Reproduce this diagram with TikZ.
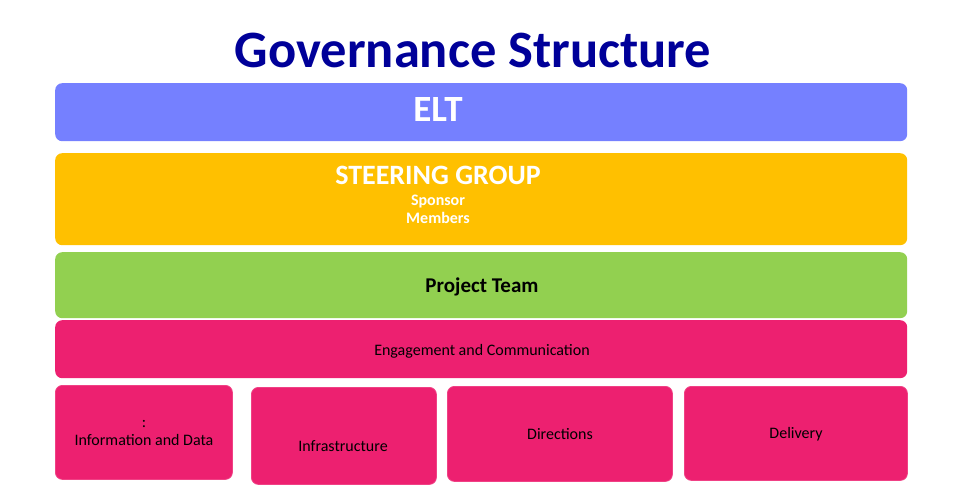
\documentclass[tikz,border=0pt]{standalone}
\usepackage{fontspec}
\setmainfont{Carlito}
\usetikzlibrary{positioning}
\definecolor{titleblue}{HTML}{000099}
\definecolor{eltblue}{HTML}{7580FF}
\definecolor{steergold}{HTML}{FFC000}
\definecolor{teamgreen}{HTML}{92D050}
\definecolor{workpink}{HTML}{ED2070}

\begin{document}
\begin{tikzpicture}[x=1pt,y=-1pt]
  \tikzstyle{panel}=[rectangle, rounded corners=7pt, inner sep=0pt, anchor=north west]
  \tikzstyle{stream}=[panel, fill=workpink, draw=workpink!85!white, line width=0.8pt]
  \tikzstyle{small}=[font=\fontsize{16}{18}\selectfont, text=black, align=center]
  \useasboundingbox (0,0) rectangle (958,485);

  \node (title) at (473,50) {\fontsize{52.5}{58}\selectfont\bfseries\color{titleblue}Governance Structure};

  % layers
  \node[panel, fill=eltblue, minimum width=852, minimum height=58] (elt) at (55,83) {};
  \node[panel, fill=steergold, minimum width=852, minimum height=92] (steer) at (55,153) {};
  \node[panel, fill=teamgreen, minimum width=852, minimum height=66] (team) at (55,252) {};
  \node[panel, fill=workpink, minimum width=852, minimum height=58] (engage) at (55,320) {};

  \node[text=white, font=\fontsize{37}{42}\selectfont\bfseries] (eltlabel) at (438,109) {ELT};
  \node[text=white, font=\fontsize{28}{32}\selectfont\bfseries] (steerlabel) at (438,175) {STEERING GROUP};
  \node[text=white, font=\fontsize{16}{18}\selectfont\bfseries, align=center] (steerroles) at (438,209) {Sponsor\\Members};
  \node[font=\fontsize{21}{24}\selectfont\bfseries] (teamlabel) at (482,287) {Project Team};
  \node[small] (engagelabel) at (482,351) {Engagement and Communication};

  % workstreams
  \node[stream, minimum width=177, minimum height=94] (info) at (55,385) {};
  \node[stream, minimum width=185, minimum height=97] (infra) at (251,387) {};
  \node[stream, minimum width=225, minimum height=95] (direct) at (447,386) {};
  \node[stream, minimum width=223, minimum height=94] (deliver) at (684,386) {};

  \node[small] (infolabel) at (144,433) {:\\Information and Data};
  \node[small] (infralabel) at (343,446) {Infrastructure};
  \node[small] (directlabel) at (560,434) {Directions};
  \node[small] (deliverlabel) at (796,434) {Delivery};
\end{tikzpicture}
\end{document}
